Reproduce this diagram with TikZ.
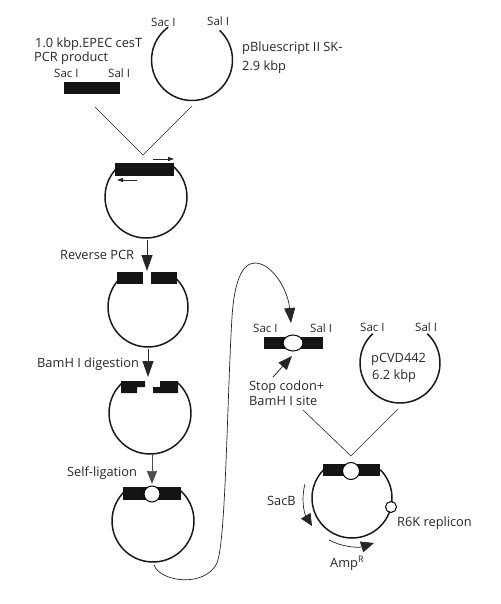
\documentclass[tikz,border=0pt]{standalone}
\usepackage{fontspec}
\setmainfont{Open Sans}
\usetikzlibrary{arrows.meta,shapes.geometric}
\tikzset{
  x=1pt,y=-1pt,
  hub/.style={circle,inner sep=0pt,outer sep=0pt,minimum size=#1},
  ring/.style={line width=1.5pt,black!90},
  bar/.style={fill=black!92,draw=none},
  link/.style={line width=0.6pt,black!85},
  flow/.style={line width=0.9pt,black!85,-{Triangle[width=11pt,length=16pt]}},
  flowthin/.style={line width=0.6pt,black!70,-{Triangle[width=10pt,length=13pt]}},
  small/.style={line width=0.9pt,black!85,-{Triangle[width=4pt,length=6pt]}},
  site/.style={circle,draw=black,line width=1pt,fill=white,inner sep=0pt},
  lab/.style={inner sep=0pt,anchor=base west,font=\fontsize{12.8}{15}\selectfont,text=black!85},
  enz/.style={lab,font=\fontsize{11.5}{13}\selectfont},
}
\begin{document}
\begin{tikzpicture}
\useasboundingbox (0,0) rectangle (500,604);
% plasmid hubs
\node[hub=81pt] (p0) at (192,60) {};
\node[hub=82pt] (p1) at (146,197) {};
\node[hub=80pt] (p2) at (148,307) {};
\node[hub=82pt] (p3) at (150,413) {};
\node[hub=82pt] (p4) at (153,521) {};
\node[hub=80pt] (p5) at (400,363) {};
\node[hub=80pt] (p6) at (352,498) {};
% rings (user angles are mirrored because the y axis points down)
\draw[ring] (p0.47) arc[start angle=-47,end angle=234,radius=40.5];
\draw[ring] (p1.50) arc[start angle=-50,end angle=230,radius=41];
\draw[ring] (p2.45) arc[start angle=-45,end angle=225,radius=40];
\draw[ring] (p3.48) arc[start angle=-48,end angle=228,radius=41];
\draw[ring] (p4.48) arc[start angle=-48,end angle=228,radius=41];
\draw[ring] (p5.47) arc[start angle=-47,end angle=227,radius=40];
\draw[ring] (p6.45) arc[start angle=-45,end angle=225,radius=40];
% insert bars
\node[bar,minimum width=56pt,minimum height=12pt,inner sep=0pt] (insert) at (92,88) {};
\fill[bar] (115,163) rectangle (174,176);
\fill[bar] (117,272) rectangle (143,284);
\fill[bar] (151,272) rectangle (177,284);
\fill[bar] (121,381) -- (145,381) -- (145,387) -- (137,387) -- (137,393) -- (121,393) -- cycle;
\fill[bar] (160,381) -- (178,381) -- (178,393) -- (153,393) -- (153,387) -- (160,387) -- cycle;
\fill[bar] (123,487) rectangle (181,500);
\node[site,minimum width=16pt,minimum height=16pt] (s4) at (152,494) {};
\node[bar,minimum width=59pt,minimum height=12pt,inner sep=0pt] (frag) at (293.5,343) {};
\node[site,ellipse,minimum width=20pt,minimum height=16pt] (s5) at (293,343) {};
\fill[bar] (323,464) rectangle (380,476);
\node[site,minimum width=17pt,minimum height=17pt] (s6) at (351,471) {};
\node[site,minimum width=11pt,minimum height=11pt] (ori) at (391,507) {};
% V junctions
\coordinate (va) at (95,107);
\coordinate (vb) at (143,155);
\coordinate (vc) at (192,106);
\draw[link] (va) -- (vb) -- (vc);
\coordinate (vd) at (303,410);
\coordinate (ve) at (351,456);
\coordinate (vf) at (398,409);
\draw[link] (vd) -- (ve) -- (vf);
% primers
\coordinate (a1) at (153,159); \coordinate (a2) at (174,159);
\coordinate (a3) at (137,180); \coordinate (a4) at (117,180);
\draw[small] (a1) -- (a2);
\draw[small] (a3) -- (a4);
% flow arrows
\coordinate (t2) at (147,271);
\coordinate (t3) at (148,377);
\coordinate (t4) at (152,484);
\draw[flow] (p1.south) ++(1,2) -- (t2);
\draw[flow] (p2.south) ++(0,2) -- (t3);
\draw[flowthin] (p3.south) ++(2,1) -- (t4);
% long curve
\coordinate (cs) at (154,565);
\coordinate (ce) at (291,323);
\draw[line width=0.7pt,black!85,-{Triangle[width=11pt,length=15pt]}] (cs)
  .. controls (160,582) and (205,588) .. (217,563)
  .. controls (226,540) and (227,400) .. (232,317)
  .. controls (234,285) and (241,263) .. (255,263)
  .. controls (272,263) and (288,290) .. (ce);
% stop codon arrow
\coordinate (sa) at (273,377);
\coordinate (sb) at (292,356);
\draw[line width=0.8pt,black!85,-{Triangle[width=11pt,length=14pt]}] (sa) -- (sb);
% SacB, AmpR arcs
\coordinate (ba) at (305,484);
\coordinate (bb) at (312,526);
\draw[line width=0.7pt,black!85,-{Triangle[width=11pt,length=12pt]}] (ba) .. controls (301,498) and (304,513) .. (bb);
\coordinate (ma) at (329,540);
\coordinate (mb) at (374,543);
\draw[line width=0.7pt,black!85,-{Triangle[width=11pt,length=13pt]}] (ma) .. controls (342,547) and (358,548) .. (mb);
% labels
\node[enz] (l1) at (151,27) {Sac I};
\node[enz] (l2) at (207,26) {Sal I};
\node[lab] (l3) at (35,48) {1.0 kbp.EPEC cesT};
\node[lab] (l4) at (34,62) {PCR product};
\node[enz] (l5) at (54,78) {Sac I};
\node[enz] (l6) at (108,78) {Sal I};
\node[lab] (l7) at (242,52) {pBluescript II SK-};
\node[lab] (l8) at (242,71) {2.9 kbp};
\node[lab] (l9) at (60,259) {Reverse PCR};
\node[lab] (l10) at (37,367) {BamH I digestion};
\node[lab] (l11) at (67,476) {Self-ligation};
\node[enz] (l12) at (253,332) {Sac I};
\node[enz] (l13) at (310,332) {Sal I};
\node[enz] (l14) at (360,331) {Sac I};
\node[enz] (l15) at (415,331) {Sal I};
\node[lab] (l16) at (371,362) {pCVD442};
\node[lab] (l17) at (372,379) {6.2 kbp};
\node[lab] (l18) at (249,390) {Stop codon+};
\node[lab] (l19) at (249,405) {BamH I site};
\node[lab] (l20) at (267,505) {SacB};
\node[lab] (l21) at (397,526) {R6K replicon};
\node[lab] (l22) at (330,567) {Amp\textsuperscript{R}};
\end{tikzpicture}
\end{document}
